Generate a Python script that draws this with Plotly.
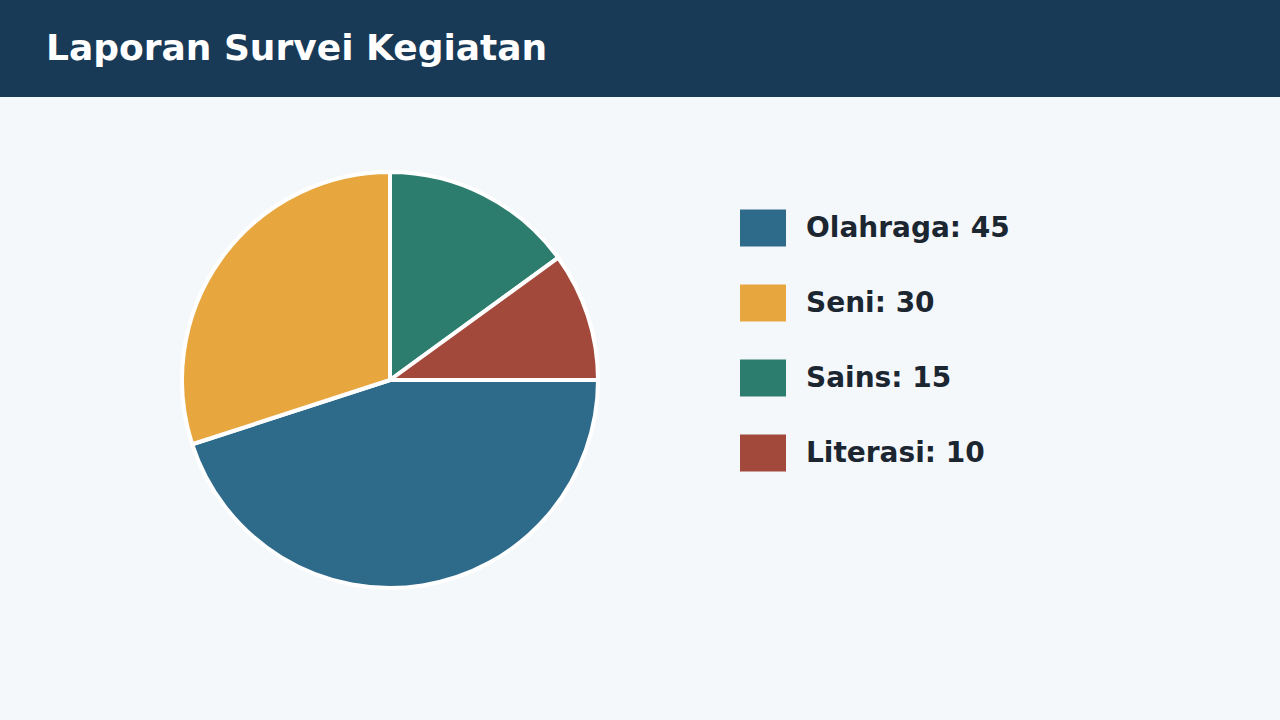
import plotly.graph_objects as go

# Data
categories = ["Olahraga", "Seni", "Sains", "Literasi"]
values = [45, 30, 15, 10]
colors = ["#2E6A8A", "#E8A63E", "#2D7D6E", "#A3493B"]
title_text = "Laporan Survei Kegiatan"

W, H = 1280, 720
BG = "#F4F8FB"
HEADER = "#183A56"
TEXT = "#1B2631"
FONT = "DejaVu Sans"


def px_x(x):
    return x / W


def px_y(y):
    return 1 - y / H


fig = go.Figure()

fig.add_trace(go.Pie(
    labels=categories,
    values=values,
    sort=False,
    direction="clockwise",
    rotation=90,
    marker=dict(colors=colors, line=dict(color="white", width=4)),
    textinfo="none",
    hoverinfo="label+value",
    showlegend=False,
    domain=dict(x=[px_x(182), px_x(598)], y=[px_y(588), px_y(172)]),
))

shapes = []
annotations = []

# Header band
shapes.append(dict(type="rect", xref="paper", yref="paper",
                   x0=0, x1=1, y0=px_y(97), y1=1,
                   fillcolor=HEADER, line=dict(width=0), layer="below"))
annotations.append(dict(xref="paper", yref="paper", x=px_x(44), y=px_y(47.5),
                        xanchor="left", yanchor="middle", showarrow=False,
                        text=f"<b>{title_text}</b>",
                        font=dict(family=FONT, size=36, color="white")))

# Custom legend
for i, (cat, val, col) in enumerate(zip(categories, values, colors)):
    yc = 228 + i * 75
    shapes.append(dict(type="rect", xref="paper", yref="paper",
                       x0=px_x(740), x1=px_x(786),
                       y0=px_y(yc + 18.5), y1=px_y(yc - 18.5),
                       fillcolor=col, line=dict(width=0)))
    annotations.append(dict(xref="paper", yref="paper", x=px_x(804), y=px_y(yc - 1),
                            xanchor="left", yanchor="middle", showarrow=False,
                            text=f"<b>{cat}: {val}</b>",
                            font=dict(family=FONT, size=28, color=TEXT)))

fig.update_layout(
    width=W, height=H,
    margin=dict(l=0, r=0, t=0, b=0),
    paper_bgcolor=BG,
    plot_bgcolor=BG,
    shapes=shapes,
    annotations=annotations,
)

fig.write_html("out.html", config={"displayModeBar": False})

# drop the default page margin so the figure sits flush with the window
with open("out.html", encoding="utf-8") as f:
    html = f.read()
html = html.replace("<head>", "<head><style>html,body{margin:0;padding:0;overflow:hidden;}</style>", 1)
with open("out.html", "w", encoding="utf-8") as f:
    f.write(html)
